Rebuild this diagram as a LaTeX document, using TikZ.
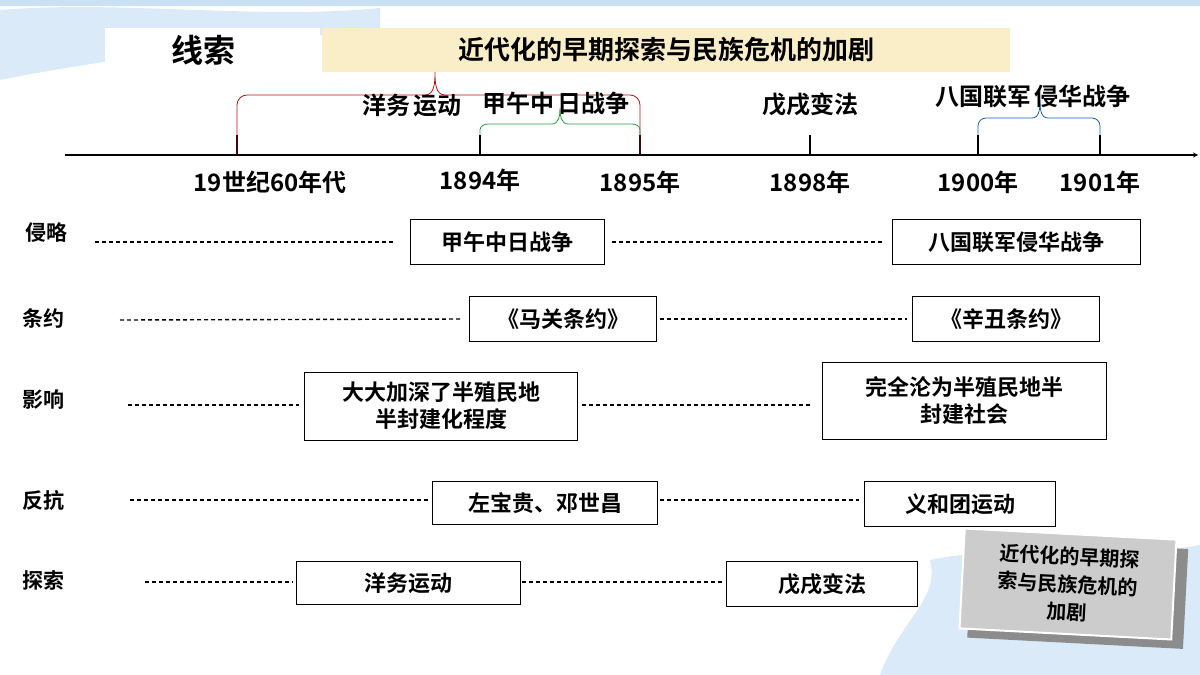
\documentclass[tikz,border=0pt]{standalone}
\usepackage{fontspec}
\setmainfont{Noto Sans CJK SC}[BoldFont={Noto Sans CJK SC Bold}]
\usetikzlibrary{positioning}
\definecolor{beige}{RGB}{250,238,200}
\definecolor{bracered}{RGB}{180,20,20}
\definecolor{bracegreen}{RGB}{30,160,60}
\definecolor{braceblue}{RGB}{20,100,190}
\definecolor{sky}{RGB}{150,195,235}
\tikzset{
  item/.style={draw,thick,fill=white,font=\fontsize{22}{27}\selectfont\bfseries,inner sep=0pt,align=center},
  rowlabel/.style={font=\fontsize{21}{24}\selectfont\bfseries},
  year/.style={font=\fontsize{24}{28}\selectfont\bfseries},
  event/.style={font=\fontsize{24}{28}\selectfont\bfseries},
  dashline/.style={line width=1.4pt,dash pattern=on 4pt off 3pt},
}
\begin{document}
\begin{tikzpicture}[x=1pt,y=-1pt,>=stealth]
\useasboundingbox (0,0) rectangle (1200,675);
% background streaks
\fill[sky,opacity=0.5] (0,0) rectangle (1200,6);
\fill[sky,opacity=0.35] (0,10) .. controls (120,0) and (260,20) .. (380,8) -- (380,30) .. controls (250,40) and (100,60) .. (0,80) -- cycle;
\fill[sky,opacity=0.35] (930,560) .. controls (1030,540) and (1120,560) .. (1200,545) -- (1200,675) -- (880,675) .. controls (900,620) and (940,600) .. (930,560) -- cycle;
% title
\node[fill=white,minimum width=215pt,minimum height=44pt,font=\fontsize{32}{36}\selectfont\bfseries] (xiansuo) at (212,50) {\hspace*{-18pt}线索};
\node[fill=beige,minimum width=688pt,minimum height=44pt,font=\fontsize{26}{30}\selectfont\bfseries] (theme) at (666,50) {近代化的早期探索与民族危机的加剧};
% axis
\coordinate (a0) at (65,155);
\coordinate (a1) at (1198,155);
\draw[very thick,->] (a0) -- (a1);
\foreach \x/\n in {237/t1,480/t2,640/t3,810/t4,978/t5,1100/t6}
  \draw[very thick] (\x,135) coordinate (\n top) -- (\x,155) coordinate (\n);
\node[year] at (270,182) {19世纪60年代};
\node[year] at (480,180) {1894年};
\node[year] at (640,182) {1895年};
\node[year] at (810,182) {1898年};
\node[year] at (978,182) {1900年};
\node[year] at (1100,182) {1901年};
% braces
\draw[bracered,thick] (t1) -- (237,105) to[out=90,in=180] (247,95) -- (425,95) to[out=0,in=-90] (435,72) to[out=-90,in=180] (445,95) -- (630,95) to[out=0,in=90] (640,105) -- (t3);
\draw[bracegreen,thick] (t2top) -- (480,130) to[out=90,in=180] (488,124) -- (552,124) to[out=0,in=-90] (560,108) to[out=-90,in=180] (568,124) -- (632,124) to[out=0,in=90] (640,130) -- (t3top);
\draw[braceblue,thick] (t5top) -- (978,126) to[out=90,in=180] (986,118) -- (1032,118) to[out=0,in=-90] (1040,100) to[out=-90,in=180] (1048,118) -- (1092,118) to[out=0,in=90] (1100,126) -- (t6top);
\node[event] at (412,105) {洋务\,运动};
\node[event] at (556,103) {甲午中\,日战争};
\node[event] at (810,105) {戊戌变法};
\node[event] at (1033,96) {八国联军\,侵华战争};
% row labels
\node[rowlabel] (lqinlue) at (46,233) {侵略};
\node[rowlabel] (ltiaoyue) at (43,318) {条约};
\node[rowlabel] (lyingxiang) at (43,400) {影响};
\node[rowlabel] (lfankang) at (43,500) {反抗};
\node[rowlabel] (ltansuo) at (43,580) {探索};
% row 1
\node[item,minimum width=194pt,minimum height=45pt] (r1a) at (507,242) {甲午中日战争};
\node[item,minimum width=248pt,minimum height=45pt] (r1b) at (1016,242) {八国联军侵华战争};
\coordinate (r1s) at (95,242);
\draw[dashline] (r1s) -- ++(300,0);
\draw[dashline] ([xshift=8pt]r1a.east) -- ([xshift=-8pt]r1b.west);
% row 2
\node[item,minimum width=187pt,minimum height=45pt] (r2a) at (563,319) {《马关条约》};
\node[item,minimum width=187pt,minimum height=45pt] (r2b) at (1006,319) {《辛丑条约》};
\coordinate (r2s) at (120,320);
\draw[dashline] (r2s) -- ([xshift=-8pt]r2a.west);
\draw[dashline] ([xshift=3pt]r2a.east) -- ([xshift=-5pt]r2b.west);
% row 3
\node[item,minimum width=273pt,minimum height=68pt] (r3a) at (441,406) {大大加深了半殖民地\\半封建化程度};
\node[item,minimum width=284pt,minimum height=77pt] (r3b) at (964,401) {完全沦为半殖民地半\\封建社会};
\coordinate (r3s) at (128,405);
\draw[dashline] (r3s) -- ([xshift=-5pt]r3a.west |- r3s);
\draw[dashline] ([xshift=4pt]r3a.east |- r3s) -- ++(228,0);
% row 4
\node[item,minimum width=225pt,minimum height=43pt] (r4a) at (545,503) {左宝贵、邓世昌};
\node[item,minimum width=191pt,minimum height=45pt] (r4b) at (960,504) {义和团运动};
\coordinate (r4s) at (130,500);
\draw[dashline] (r4s) -- ([xshift=-3pt]r4a.west |- r4s);
\draw[dashline] ([xshift=2pt]r4a.east |- r4s) -- ([xshift=-5pt]r4b.west |- r4s);
% row 5
\node[item,minimum width=224pt,minimum height=43pt] (r5a) at (408,583) {洋务运动};
\node[item,minimum width=191pt,minimum height=45pt] (r5b) at (822,584) {戊戌变法};
\coordinate (r5s) at (145,582);
\draw[dashline] (r5s) -- ([xshift=-3pt]r5a.west |- r5s);
\draw[dashline] ([xshift=2pt]r5a.east |- r5s) -- ([xshift=-1pt]r5b.west |- r5s);
% summary card
\fill[black!45,rotate around={-3:(1072,588)}] (970,543) rectangle (1186,643);
\node[fill=black!20,draw=white,line width=2pt,minimum width=212pt,minimum height=100pt,rotate=-3,align=center,font=\fontsize{20}{28}\selectfont\bfseries] (card) at (1068,584) {近代化的早期探\\索与民族危机的\\加剧};
\end{tikzpicture}
\end{document}
